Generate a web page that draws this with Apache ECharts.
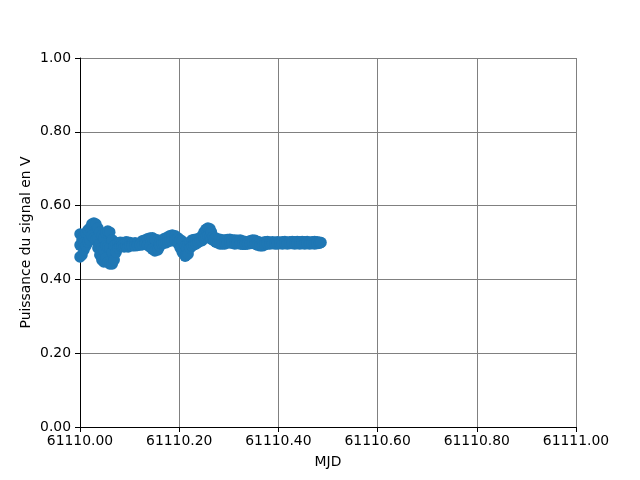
<!DOCTYPE html>
<html>
<head>
<meta charset="utf-8">
<script src="https://cdn.jsdelivr.net/npm/echarts@6/dist/echarts.min.js"></script>
<style>html,body{margin:0;padding:0;background:#fff}#c{width:640px;height:480px}</style>
</head>
<body>
<div id="c"></div>
<script>
// MJD sample times (fraction of day after 61110) and measured power (V)
const mjdBase = 61110;
const mjdFrac = [
0.000,0.000,0.000,0.004,0.004,0.008,0.008,0.008,0.012,0.012,0.016,0.016,0.020,0.020,0.024,0.024,
0.028,0.028,0.032,0.032,0.036,0.036,0.036,0.040,0.040,0.040,0.044,0.044,0.044,0.048,0.048,0.048,
0.052,0.052,0.052,0.056,0.056,0.056,0.060,0.060,0.060,0.065,0.065,0.065,0.069,0.069,0.073,0.073,
0.077,0.077,0.081,0.081,0.085,0.085,0.089,0.089,0.093,0.093,0.097,0.097,0.101,0.101,0.105,0.105,
0.111,0.111,0.116,0.116,0.121,0.121,0.126,0.126,0.131,0.131,0.136,0.136,0.141,0.141,0.146,0.146,
0.151,0.151,0.157,0.157,0.161,0.161,0.165,0.165,0.169,0.169,0.173,0.173,0.177,0.177,0.181,0.181,
0.186,0.186,0.192,0.192,0.198,0.198,0.202,0.202,0.206,0.206,0.212,0.212,0.215,0.215,0.218,0.218,
0.222,0.222,0.226,0.226,0.230,0.230,0.234,0.234,0.238,0.238,0.242,0.242,0.246,0.246,0.250,0.250,
0.254,0.254,0.258,0.258,0.262,0.262,0.265,0.265,0.268,0.268,0.271,0.271,0.274,0.274,0.278,0.278,
0.282,0.282,0.287,0.287,0.292,0.292,0.297,0.297,0.302,0.302,0.307,0.307,0.312,0.312,0.317,0.317,
0.323,0.323,0.328,0.328,0.333,0.333,0.338,0.338,0.343,0.343,0.348,0.348,0.353,0.353,0.358,0.358,
0.363,0.363,0.368,0.368,0.373,0.373,0.378,0.378,0.383,0.383,0.388,0.388,0.393,0.393,0.398,0.398,
0.403,0.403,0.408,0.408,0.413,0.413,0.418,0.418,0.423,0.423,0.428,0.428,0.433,0.433,0.438,0.438,
0.443,0.443,0.448,0.448,0.453,0.453,0.458,0.458,0.463,0.463,0.468,0.468,0.473,0.473,0.478,0.478,
0.483,0.483,0.486
];
const power = [
0.523,0.461,0.493,0.507,0.466,0.518,0.480,0.499,0.526,0.491,0.534,0.501,0.539,0.507,0.550,0.518,
0.553,0.512,0.550,0.507,0.539,0.485,0.512,0.528,0.466,0.496,0.518,0.453,0.485,0.512,0.447,0.480,
0.526,0.458,0.491,0.531,0.447,0.488,0.528,0.442,0.485,0.507,0.442,0.474,0.491,0.453,0.496,0.474,
0.499,0.485,0.501,0.491,0.500,0.490,0.499,0.488,0.502,0.490,0.501,0.488,0.500,0.492,0.496,0.491,
0.499,0.491,0.497,0.492,0.496,0.493,0.505,0.494,0.507,0.496,0.510,0.493,0.512,0.488,0.513,0.482,
0.509,0.477,0.507,0.480,0.502,0.490,0.504,0.496,0.510,0.498,0.512,0.499,0.515,0.502,0.518,0.504,
0.520,0.505,0.518,0.507,0.512,0.496,0.507,0.485,0.504,0.474,0.491,0.463,0.485,0.466,0.496,0.469,
0.501,0.485,0.507,0.491,0.508,0.494,0.509,0.496,0.510,0.500,0.512,0.504,0.518,0.505,0.528,0.512,
0.536,0.515,0.539,0.518,0.537,0.515,0.528,0.509,0.515,0.507,0.510,0.504,0.512,0.501,0.509,0.499,
0.509,0.496,0.507,0.496,0.507,0.496,0.508,0.499,0.509,0.499,0.507,0.498,0.507,0.496,0.506,0.497,
0.507,0.496,0.504,0.495,0.503,0.495,0.502,0.496,0.505,0.497,0.507,0.498,0.506,0.496,0.503,0.493,
0.501,0.491,0.500,0.491,0.502,0.494,0.503,0.496,0.501,0.496,0.502,0.497,0.501,0.496,0.502,0.496,
0.501,0.497,0.502,0.496,0.503,0.497,0.501,0.496,0.502,0.497,0.503,0.497,0.502,0.496,0.503,0.497,
0.502,0.496,0.503,0.497,0.502,0.496,0.503,0.497,0.501,0.496,0.502,0.497,0.503,0.496,0.502,0.497,
0.501,0.498,0.500
];
const xTitle = 'MJD';
const yTitle = 'Puissance du signal en V';

const data = mjdFrac.map((f, i) => [mjdBase + f, power[i]]);
const font = 'DejaVu Sans';
const fs = 13.9;
const chart = echarts.init(document.getElementById('c'), null, {renderer: 'canvas'});
chart.setOption({
  animation: false,
  backgroundColor: '#ffffff',
  grid: {left: 80, right: 64, top: 58, bottom: 53},
  xAxis: {
    type: 'value', min: 61110, max: 61111, interval: 0.2,
    name: xTitle, nameLocation: 'middle', nameGap: 28, nameMoveOverlap: false,
    nameTextStyle: {color: '#000', fontFamily: font, fontSize: fs},
    axisLine: {show: true, onZero: false, lineStyle: {color: '#000', width: 1}},
    axisTick: {show: true, length: 5, lineStyle: {color: '#000'}},
    axisLabel: {color: '#000', fontFamily: font, fontSize: fs, margin: 7,
      formatter: v => v.toFixed(2)},
    splitLine: {show: true, lineStyle: {color: '#808080', width: 1}}
  },
  yAxis: {
    type: 'value', min: 0, max: 1, interval: 0.2,
    name: yTitle, nameLocation: 'middle', nameGap: 47, nameRotate: 90, nameMoveOverlap: false,
    nameTextStyle: {color: '#000', fontFamily: font, fontSize: fs},
    axisLine: {show: true, onZero: false, lineStyle: {color: '#000', width: 1}},
    axisTick: {show: true, length: 5, lineStyle: {color: '#000'}},
    axisLabel: {color: '#000', fontFamily: font, fontSize: fs, margin: 9,
      formatter: v => v.toFixed(2)},
    splitLine: {show: true, lineStyle: {color: '#808080', width: 1}}
  },
  series: [{
    type: 'scatter', data: data, symbol: 'circle', symbolSize: 11.5,
    itemStyle: {color: '#1f77b4', opacity: 1}, clip: false
  }]
});
</script>
</body>
</html>
